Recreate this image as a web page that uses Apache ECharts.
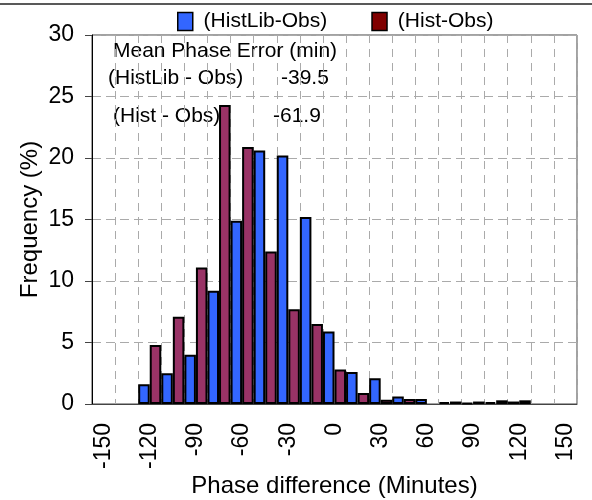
<!DOCTYPE html>
<html>
<head>
<meta charset="utf-8">
<script src="https://cdn.jsdelivr.net/npm/echarts@6/dist/echarts.min.js"></script>
<style>html,body{margin:0;padding:0;background:#fff}#c{width:592px;height:500px}</style>
</head>
<body>
<div id="c"></div>
<script>
var categories = ['-150','-135','-120','-105','-90','-75','-60','-45','-30','-15','0','15','30','45','60','75','90','105','120','135','150'];
var histLibObs = [null,null,1.6,2.5,4.0,9.2,14.9,20.6,20.2,15.2,5.9,2.6,2.1,0.6,0.4,0.15,0.1,0.15,0.2,null,null];
var histObs = [null,null,4.8,7.1,11.1,24.3,20.9,12.4,7.7,6.5,2.8,0.9,0.35,0.4,null,0.2,0.2,0.3,0.3,null,null];
var seriesNames = ['(HistLib-Obs)','(Hist-Obs)'];
var annotLines = [
  ['Mean Phase Error (min)', ''],
  ['(HistLib - Obs)', '-39.5'],
  ['(Hist - Obs)', '-61.9']
];

var FONT = 'Liberation Sans, Arial, Helvetica, sans-serif';
var chart = echarts.init(document.getElementById('c'), null, {renderer:'canvas'});
var annotPos = [[113,52,0,0],[108,79,281,79],[113,117,273,117]];
var g = [{type:'line', shape:{x1:0,y1:4,x2:592,y2:4}, style:{stroke:'#222', lineWidth:1.5}, z:0}];
annotLines.forEach(function(a,i){
  g.push({type:'text', left:annotPos[i][0], top:annotPos[i][1]-11, z:0,
    style:{text:a[0], font:'21px '+FONT, fill:'#000'}});
  if (a[1]) g.push({type:'text', left:annotPos[i][2], top:annotPos[i][3]-11, z:0,
    style:{text:a[1], font:'21px '+FONT, fill:'#000'}});
});

chart.setOption({
  animation:false,
  textStyle:{fontFamily:FONT},
  grid:{left:92, right:15, top:35, bottom:96, show:true, borderColor:'#444', borderWidth:1,
        containLabel:false, outerBoundsMode:'none'},
  legend:{
    left:177, top:11, padding:0, itemWidth:15, itemHeight:18, itemGap:44, icon:'rect',
    formatter:function(n){return ' ' + n;},
    textStyle:{fontSize:21, color:'#000', fontFamily:FONT},
    data:[
      {name:seriesNames[0], itemStyle:{color:'#3366FF', borderColor:'#000', borderWidth:1.5}},
      {name:seriesNames[1], itemStyle:{color:'#800000', borderColor:'#000', borderWidth:1.5}}
    ]
  },
  xAxis:{
    type:'category', data:categories, boundaryGap:true,
    name:'Phase difference (Minutes)', nameLocation:'middle', nameGap:70, nameMoveOverlap:false,
    nameTextStyle:{fontSize:24, color:'#000', fontFamily:FONT},
    axisLine:{lineStyle:{color:'#444', width:1}},
    axisTick:{show:false},
    axisLabel:{interval:1, rotate:90, fontSize:23, color:'#000', margin:19, fontFamily:FONT},
    splitLine:{show:true, interval:0, lineStyle:{color:'#aaa', type:[8,6], width:1}}
  },
  yAxis:{
    type:'value', min:0, max:30, interval:5,
    name:'Frequency (%)', nameLocation:'middle', nameGap:50, nameMoveOverlap:false,
    nameTextStyle:{fontSize:24, color:'#000', fontFamily:FONT},
    axisLine:{show:true, lineStyle:{color:'#000', width:1}},
    axisTick:{show:true, length:7, lineStyle:{color:'#444'}},
    axisLabel:{fontSize:23, color:'#000', margin:18, fontFamily:FONT},
    splitLine:{show:true, lineStyle:{color:'#aaa', type:[9,5], width:1}}
  },
  graphic:g,
  series:[
    {name:seriesNames[0], type:'bar', data:histLibObs, barGap:'0%', barCategoryGap:'0%',
     itemStyle:{color:'#3366FF', borderColor:'#000', borderWidth:2}},
    {name:seriesNames[1], type:'bar', data:histObs, barGap:'0%', barCategoryGap:'0%',
     itemStyle:{color:'#993366', borderColor:'#000', borderWidth:2}}
  ]
});
</script>
</body>
</html>
